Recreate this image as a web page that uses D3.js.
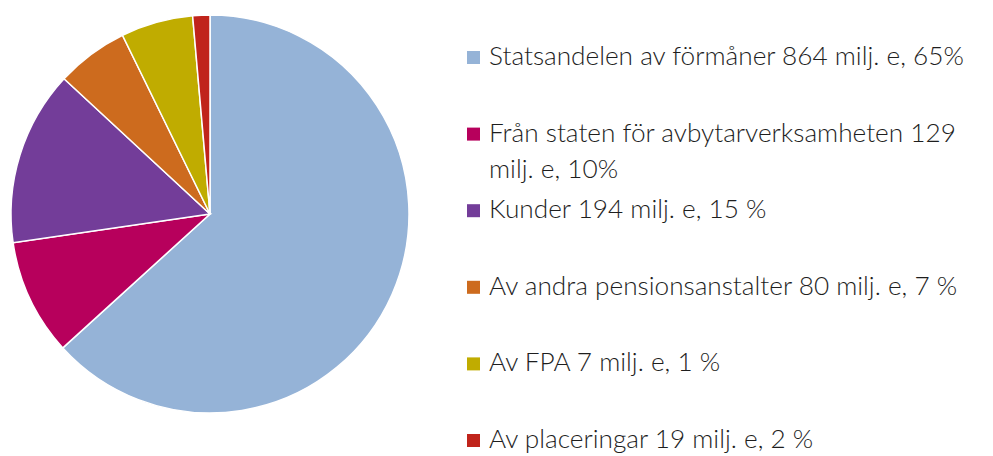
<!DOCTYPE html>
<html>
<head>
<meta charset="utf-8">
<script src="https://cdn.jsdelivr.net/npm/d3@7"></script>
<style>
  body { margin: 0; background: #fff; }
  svg text { font-family: "Lato", "Open Sans", sans-serif; font-weight: 300; fill: #1e1e1e; }
</style>
</head>
<body>
<script>
// legend texts, in the order the slices run clockwise from 12 o'clock
var labels = [
  "Statsandelen av förmåner 864 milj. e, 65%",
  "Från staten för avbytarverksamheten 129 milj. e, 10%",
  "Kunder 194 milj. e, 15 %",
  "Av andra pensionsanstalter 80 milj. e, 7 %",
  "Av FPA 7 milj. e, 1 %",
  "Av placeringar 19 milj. e, 2 %"
];
// slice sizes as drawn in the picture (milj. e)
var values = [864, 129, 194, 80, 80, 19];
var colors = ["#95b3d7", "#b7005c", "#733d99", "#cd6b1e", "#c0ac00", "#c0241b"];

var width = 993,
    height = 456,
    cx = 210,
    cy = 214,
    radius = 199;

var svg = d3.select("body").append("svg")
    .attr("width", width)
    .attr("height", height);

var pie = d3.pie().sort(null).value(function(d) { return d; });
var arc = d3.arc().innerRadius(0).outerRadius(radius);

var g = svg.append("g")
    .attr("transform", "translate(" + cx + "," + cy + ")");

g.selectAll("path")
    .data(pie(values))
    .enter()
    .append("path")
    .attr("d", arc)
    .attr("fill", function(d, i) { return colors[i]; })
    .attr("stroke", "#fff")
    .attr("stroke-width", 1.5);

// legend
var fontSize = 26.2,
    wrapWidth = 498,
    lineGap = 36;

var y = d3.scalePoint()
    .domain(d3.range(labels.length))
    .range([65, 448]);

var legend = svg.append("g").attr("class", "legend");

var item = legend.selectAll("g")
    .data(labels)
    .enter()
    .append("g")
    .attr("transform", function(d, i) { return "translate(0," + y(i) + ")"; });

item.append("rect")
    .attr("x", 467)
    .attr("y", -14)
    .attr("width", 13)
    .attr("height", 13)
    .attr("fill", function(d, i) { return colors[i]; });

item.append("text")
    .attr("x", 489)
    .attr("y", 0)
    .style("font-size", fontSize + "px")
    .each(function(d) {
      var t = d3.select(this);
      var words = d.split(" "), line = [];
      var tspan = t.append("tspan").attr("x", 489).attr("dy", 0);
      words.forEach(function(w) {
        line.push(w);
        tspan.text(line.join(" "));
        if (tspan.node().getComputedTextLength() > wrapWidth && line.length > 1) {
          line.pop();
          tspan.text(line.join(" "));
          line = [w];
          tspan = t.append("tspan").attr("x", 489).attr("dy", lineGap).text(w);
        }
      });
    });
</script>
</body>
</html>
